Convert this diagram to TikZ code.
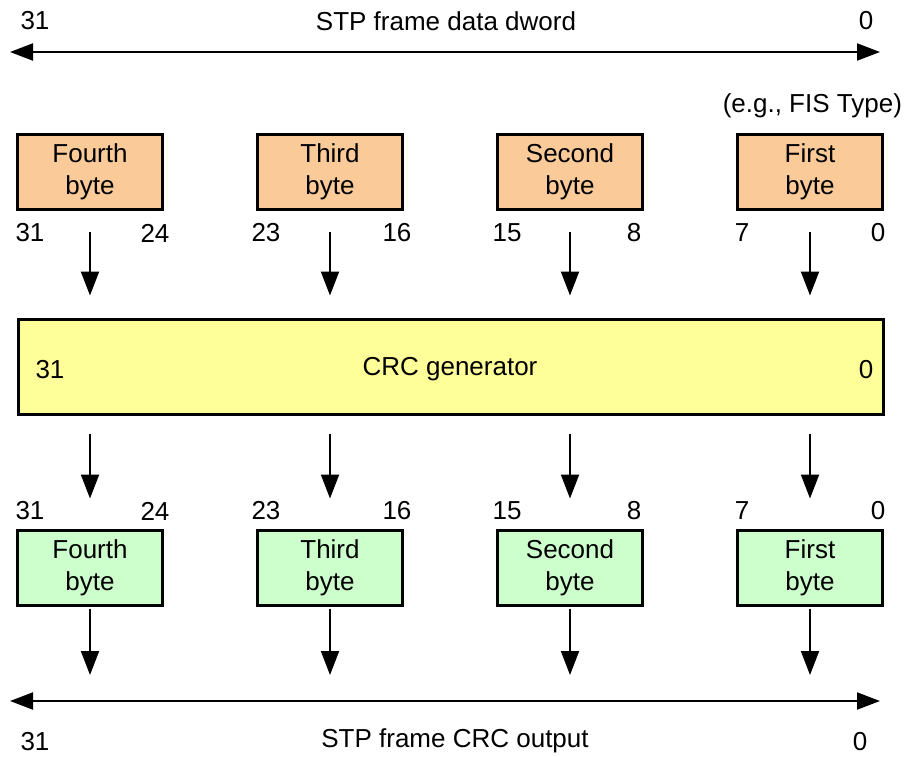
\documentclass[tikz,border=0pt]{standalone}
\usepackage{fontspec}
\setmainfont{Liberation Sans}
\usetikzlibrary{positioning, arrows.meta}
\definecolor{inbyte}{RGB}{250,202,152}
\definecolor{crcfill}{RGB}{255,255,153}
\definecolor{outbyte}{RGB}{204,255,204}

\tikzset{
    bytebox/.style={draw, line width=1.5pt, minimum width=72.5pt, minimum height=37.5pt, align=center, inner sep=0pt},
    flow/.style={-{Triangle[length=12pt,width=9pt]}, line width=1pt},
    span/.style={{Triangle[length=11.5pt,width=8.5pt]}-{Triangle[length=11.5pt,width=8.5pt]}, line width=1pt},
}

\begin{document}
\begin{tikzpicture}[x=0.5pt, y=-0.5pt, font=\fontsize{13}{16}\selectfont]
    \useasboundingbox (0,0) rectangle (911,756);

    % STP frame data dword
    \coordinate (tl) at (10,52);
    \coordinate (tr) at (880,52);
    \draw[span] (tl) -- (tr);
    \node (top31) at (35,21) {31};
    \node (toptitle) at (446,21) {STP frame data dword};
    \node (top0) at (866,21) {0};
    \node[anchor=east] (fis) at (909,106) {(e.g., FIS Type)};

    % CRC generator
    \node[draw, line width=1.5pt, fill=crcfill, minimum width=432.5pt, minimum height=47.5pt] (crc) at (450.5,366.5) {};
    \node (crctitle) at (450,369) {CRC generator};
    \node (crc31) at (50,370) {31};
    \node (crc0) at (866,370) {0};

    % STP frame CRC output
    \coordinate (bl) at (10,701);
    \coordinate (br) at (880,701);
    \draw[span] (bl) -- (br);
    \node (bot31) at (35,742) {31};
    \node (bottitle) at (455,741) {STP frame CRC output};
    \node (bot0) at (860,742) {0};

    % input and output bytes
    \foreach \x/\nm/\txt/\hi/\lo/\hx/\lx in {90/d4/Fourth/31/24/30/155, 330/d3/Third/23/16/266/397, 570/d2/Second/15/8/507/634, 810/d1/First/7/0/742/878} {
        \node[bytebox, fill=inbyte] (in\nm) at (\x,171.5) {\txt\\byte};
        \node (inhi\nm) at (\hx,233) {\hi};
        \node (inlo\nm) at (\lx,233) {\lo};
        \draw[flow, shorten <=10.5pt, shorten >=11pt] (in\nm.south) -- (in\nm.south |- crc.north);

        \node[bytebox, fill=outbyte] (out\nm) at (\x,567.5) {\txt\\byte};
        \node (outhi\nm) at (\hx,511) {\hi};
        \node (outlo\nm) at (\lx,511) {\lo};
        \draw[flow, shorten <=9pt, shorten >=15pt] (crc.south -| out\nm.north) -- (out\nm.north);
        \draw[flow, shorten <=1pt, shorten >=13pt] (out\nm.south) -- (out\nm.south |- bl);
    }
\end{tikzpicture}
\end{document}
